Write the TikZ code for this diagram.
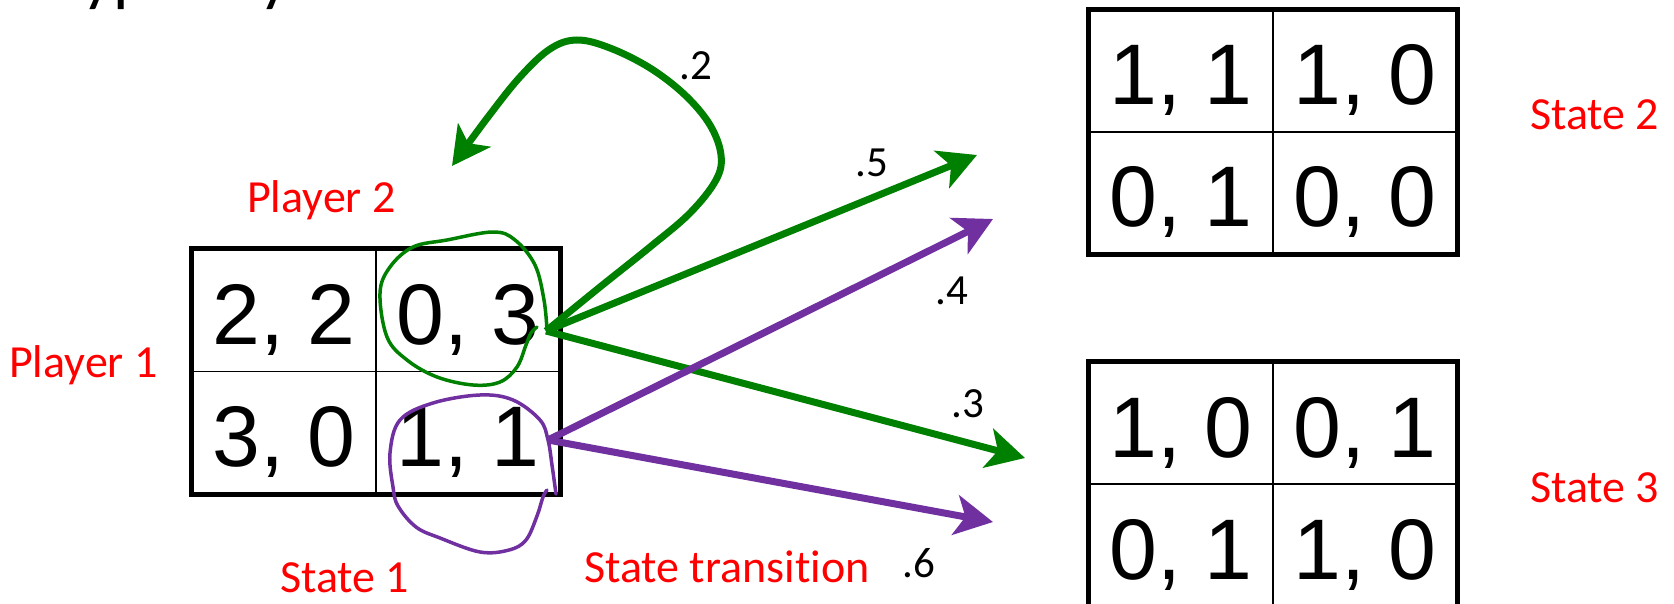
\documentclass[tikz,border=0pt]{standalone}
\usepackage{fontspec}
\setmainfont{Liberation Sans}
\newfontfamily\calib[Ligatures=NoCommon]{Carlito}
\usetikzlibrary{arrows.meta}
\definecolor{pgreen}{HTML}{008000}
\definecolor{ppurple}{HTML}{7030A0}
\definecolor{pred}{HTML}{FF0000}

\tikzset{
  cell/.style={draw, line width=1.6pt, minimum width=184pt, minimum height=122pt,
    inner sep=0pt, text height=68pt, text depth=0pt,
    font=\fontsize{86}{86}\selectfont},
  frame/.style={draw, line width=5pt},
  redlabel/.style={text=pred, font=\calib\fontsize{46}{46}\selectfont,
    anchor=base west, inner sep=0pt},
  problabel/.style={font=\calib\fontsize{43}{43}\selectfont,
    anchor=base west, inner sep=0pt},
  bigtip/.style={-{Stealth[length=38pt,width=40pt,inset=10pt]}},
  greenarrow/.style={draw=pgreen, line width=7pt, bigtip},
  purplearrow/.style={draw=ppurple, line width=7pt, bigtip},
  greenink/.style={draw=pgreen, line width=3.5pt, line cap=round, line join=round},
  purpleink/.style={draw=ppurple, line width=3.5pt, line cap=round, line join=round},
}

\begin{document}
\begin{tikzpicture}[x=1pt, y=-1pt]
\useasboundingbox (0,0) rectangle (1674,604);

% heading, mostly above the visible area
\begin{scope}
  \clip (0,0) rectangle (1674,604);
  \node[font=\calib\fontsize{69}{69}\selectfont, anchor=base west, inner sep=0pt]
    (heading) at (52,-1) {Typically};
\end{scope}

% State 1 payoff table
\node[cell] (a11) at (284,310.5) {2, 2};
\node[cell] (a12) at (468,310.5) {0, 3};
\node[cell] (a21) at (284,432.5) {3, 0};
\node[cell] (a22) at (468,432.5) {1, 1};
\draw[frame] (a11.north west) rectangle (a22.south east);

% State 2 payoff table
\node[cell] (b11) at (1181,71) {1, 1};
\node[cell] (b12) at (1365,71) {1, 0};
\node[cell] (b21) at (1181,193) {0, 1};
\node[cell] (b22) at (1365,193) {0, 0};
\draw[frame] (b11.north west) rectangle (b22.south east);

% State 3 payoff table
\node[cell] (c11) at (1181,423) {1, 0};
\node[cell] (c12) at (1365,423) {0, 1};
\node[cell] (c21) at (1181,545) {0, 1};
\node[cell] (c22) at (1365,545) {1, 0};
\draw[frame] (c11.north west) rectangle (c22.south east);

% red captions
\node[redlabel] (pl2) at (247,213) {Player 2};
\node[redlabel] (pl1) at (9,377) {Player 1};
\node[redlabel] (st1) at (280,592) {State 1};
\node[redlabel] (trans) at (584,582) {State transition};
\node[redlabel] (st2) at (1530,130) {State 2};
\node[redlabel] (st3) at (1530,502) {State 3};

% probabilities
\node[problabel] (q2) at (679,80) {.2};
\node[problabel] (q5) at (855,177) {.5};
\node[problabel] (q4) at (935,305) {.4};
\node[problabel] (q3) at (951,417) {.3};
\node[problabel] (q6) at (902,577) {.6};

% arrow origins and free ends
\coordinate (gsrc) at (546,331);
\coordinate (psrc) at (548,440);
\coordinate (gto2) at (977,155);
\coordinate (gto3) at (1025,458);
\coordinate (pto2) at (993,219);
\coordinate (pto3) at (993,522);

% hand-drawn rings around the selected outcomes
\draw[greenink] plot[smooth, tension=0.6] coordinates {
  (547,330) (544,300) (535,265) (515,240) (493,232) (447,240) (413,247)
  (390,267) (380,293) (387,337) (407,360) (437,377) (473,385) (500,382)
  (517,367) (526,345) (531,333) (537,327)};
\draw[purpleink] plot[smooth, tension=0.6] coordinates {
  (556,494) (552,465) (548,440) (540,420) (513,400) (480,395) (433,403)
  (400,420) (390,453) (393,487) (398,506) (416,527) (440,538) (480,552)
  (509,550) (526,540) (537,516) (543,497) (547,490)};

% transitions
\draw[greenarrow] (gsrc) -- (gto2);
\draw[greenarrow] (gsrc) -- (gto3);
\draw[purplearrow] (psrc) -- (pto2);
\draw[purplearrow] (psrc) -- (pto3);
\draw[greenarrow] plot[smooth, tension=0.6] coordinates {
  (546,331) (600,287) (650,247) (690,213) (716,180) (721,155) (710,125)
  (685,95) (650,68) (610,48) (577,40) (550,49) (520,77) (488,117) (452,166)};
\end{tikzpicture}
\end{document}
